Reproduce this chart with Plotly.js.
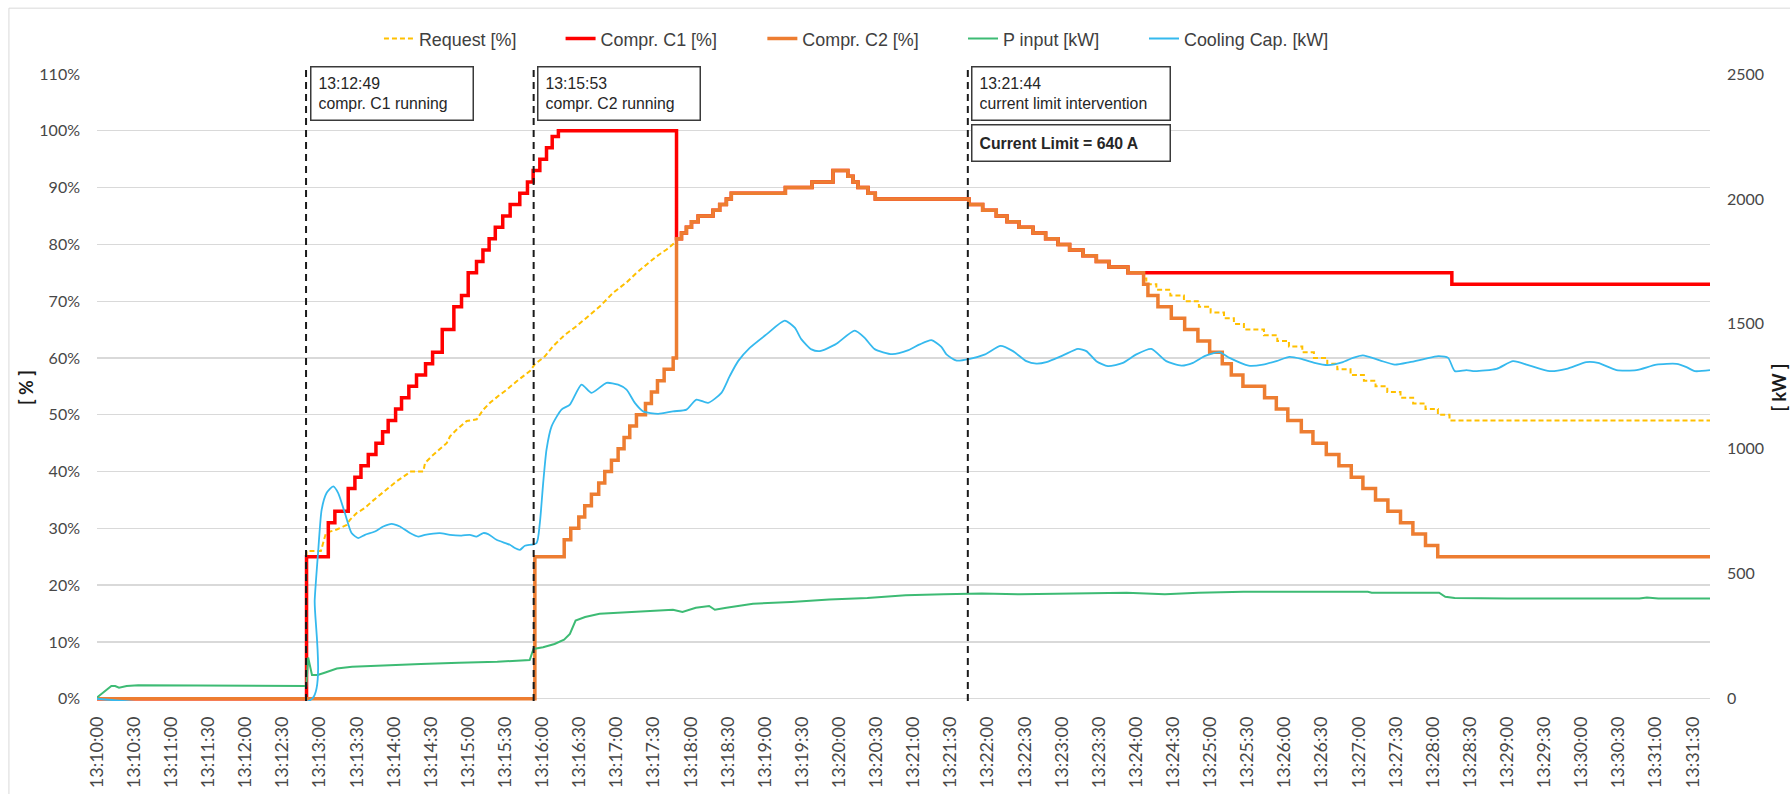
<!DOCTYPE html>
<html><head><meta charset="utf-8">
<script src="https://cdn.plot.ly/plotly-3.0.1.min.js"></script>
<style>html,body{margin:0;padding:0;background:#fff;} #chart{width:1790px;height:794px;}</style>
</head><body><div id="chart"></div>
<script>
// time axis: seconds after 13:10:00
const startTime = '13:10:00';
const endSeconds = 1304;

// Request [%]: ramp part read as a continuous line [seconds, %]
const requestRamp = [[0,0],[169.3,0],[169.4,26],[181,26],[185.1,29.2],[193.8,29.8],[201.9,30.6],[204.5,31.5],[209.9,32.7],[216.7,33.6],[222.1,34.7],[228.8,35.9],[236.9,37.4],[242.3,38.3],[250.4,39.5],[253,40],[263.8,40],[265.2,41.5],[270.6,42.7],[277.3,43.9],[282.7,45],[285.4,46.2],[290.8,47.4],[298.9,48.9],[307,49.2],[312.3,50.9],[317.7,52.1],[324.4,53.3],[331.2,54.4],[339.3,55.9],[344.6,56.8],[350,57.7],[354,58.9],[362.1,60.3],[368.8,62.1],[378.3,64.1],[387.7,65.6],[395.8,67.1],[406.6,69.1],[417.4,71.5],[428.1,73.3],[436.2,75],[444.3,76.5],[452.4,77.9],[460.5,79.1],[467.2,80.3]];
// Request [%]: stepped part, [seconds, new value]
const requestSteps = [[468.5,81],[472.5,82],[476.5,83],[480.6,84],[486,85],[498,86],[503.4,87],[508.8,88],[512.8,89],[556.5,90],[578,91],[595,93],[607,92],[611.2,91],[615.2,90],[623.3,89],[629.2,88],[705,87],[716,86],[727,85],[735.7,84],[745.4,83],[756.7,82],[766.9,81],[776.9,80],[786.3,79],[797.1,78],[807.9,77],[818.1,76],[833.4,75],[845.6,74],[848.3,73],[856.4,72],[867.7,71],[878.7,70],[890.8,69],[900.3,68],[911.1,67],[919.1,66],[927.2,65],[943.4,64],[954.2,63],[963.6,62],[974.4,61],[983.8,60],[994.6,59],[1002.7,58],[1013.4,57],[1024.2,56],[1033.6,55],[1043.1,54],[1053.8,53],[1064,52],[1074,51],[1084,50],[1093.4,49],[1304,49]];

// [seconds, %] change points (stepped)
const comprC1 = [[0,0],[169.4,25],[187,31],[192.3,33],[203.1,37],[208.5,39],[213.4,41],[219.3,43],[225.5,45],[230.9,47],[235.4,49],[241.4,51],[246.2,53],[252.1,55],[258.3,57],[265.6,59],[271.3,61],[279.1,65],[288.5,69],[294.7,71],[300.1,75],[306.8,77],[312,79],[317,81],[322,83],[328,85],[334,87],[341.8,89],[348,91],[352.6,93],[358,95],[363.4,97],[368,99],[373,100],[468.5,81],[472.5,82],[476.5,83],[480.6,84],[486,85],[498,86],[503.4,87],[508.8,88],[512.8,89],[556.5,90],[578,91],[595,93],[607,92],[611.2,91],[615.2,90],[623.3,89],[629.2,88],[705,87],[716,86],[727,85],[735.7,84],[745.4,83],[756.7,82],[766.9,81],[776.9,80],[786.3,79],[797.1,78],[807.9,77],[818.1,76],[833.4,75],[1095.3,73],[1304,73]];

const comprC2 = [[0,0],[354,25],[377.7,28],[383,30],[389.5,32],[394.3,34],[399.7,36],[405.6,38],[410.5,40],[415.9,42],[421.3,44],[426.1,46],[430.7,48],[436.1,50],[443.4,52],[448.2,54],[453.1,56],[458.5,58],[465.8,60],[468.5,81],[472.5,82],[476.5,83],[480.6,84],[486,85],[498,86],[503.4,87],[508.8,88],[512.8,89],[556.5,90],[578,91],[595,93],[607,92],[611.2,91],[615.2,90],[623.3,89],[629.2,88],[705,87],[716,86],[727,85],[735.7,84],[745.4,83],[756.7,82],[766.9,81],[776.9,80],[786.3,79],[797.1,78],[807.9,77],[818.1,76],[833.4,75],[846.1,73],[849.6,71],[857.7,69],[868.5,67],[879.3,65],[890,63],[899.5,61],[909.7,59],[917,57],[926.4,55],[943.9,53],[953.4,51],[962.7,49],[973.6,47],[983,45],[993.8,43],[1004,41],[1014,39],[1023.4,37],[1033.6,35],[1043.6,33],[1053.8,31],[1063.8,29],[1074,27],[1083.9,25],[1304,25]];

// [seconds, kW]
const pInput = [[0,5],[7,31],[11.6,51],[14.7,51],[17.8,44],[24,51],[33.3,54],[169.2,51],[170.7,165],[173.8,95],[178.4,95],[184.6,105],[193.9,121],[206.2,128],[230.9,134],[261.8,139],[292.7,144],[323.6,148],[349.8,155],[352.9,199],[360.6,206],[369.9,219],[377.6,236],[382.3,259],[386.9,313],[394.6,327],[406.3,340],[438,347],[465.6,356],[473.3,347],[484.1,364],[494.9,371],[499.5,356],[508.8,364],[530.3,380],[561.2,387],[592,397],[622.8,403],[653.7,414],[684.5,418],[715.3,421],[746,418],[777,420],[832.4,424],[863.3,418],[890.4,424],[926.9,428],[1027.4,428],[1030.5,424],[1085,424],[1090,408],[1097.6,403],[1140.3,401],[1246.9,401],[1253,405],[1262.2,401],[1304,401]];

const coolingCap = [[0,0],[174,0],[176,395],[178.9,596],[181.6,756],[185.6,823],[191,850],[195,823],[200.4,743],[205.8,663],[211.2,643],[216.6,656],[224.7,669],[231.4,689],[238.2,700],[244.9,689],[253,663],[259.7,649],[265.1,656],[277.2,663],[285.3,656],[294.7,653],[301.4,656],[306.8,649],[312.2,663],[316.2,659],[323,636],[333.8,616],[337.8,603],[341.9,596],[345.9,612],[355.3,623],[358,703],[360.7,863],[363.4,997],[367.5,1090],[375.5,1157],[382.3,1177],[391.7,1257],[399.8,1224],[411.9,1264],[421.3,1257],[428.1,1237],[434.8,1184],[441.5,1150],[453.6,1140],[465.7,1150],[476.6,1157],[484.6,1197],[494,1184],[504.8,1224],[511.5,1291],[518.3,1351],[527.7,1404],[541.2,1458],[556,1513],[564.1,1485],[569.5,1438],[577.6,1398],[584.3,1391],[597,1418],[612.6,1473],[620.6,1444],[628.7,1399],[642.8,1379],[656,1395],[665.1,1418],[674.5,1435],[682.6,1408],[686.7,1378],[695,1353],[705.5,1360],[718,1378],[730.5,1412],[740.5,1391],[751.3,1351],[759.4,1341],[767.5,1347],[780.9,1374],[793,1400],[799.8,1391],[807.9,1351],[817.3,1331],[829.4,1344],[840.2,1378],[852.3,1400],[864.4,1351],[876.6,1333],[886,1344],[895.4,1371],[907.5,1387],[915.6,1364],[931,1333],[942.6,1337],[953.4,1351],[964.1,1368],[973.6,1360],[984.3,1344],[995.1,1335],[1007.2,1347],[1015.3,1364],[1023.4,1374],[1037.1,1354],[1049.2,1337],[1061.3,1347],[1073.4,1360],[1084.2,1371],[1092.3,1364],[1097.7,1311],[1107.1,1315],[1113.9,1311],[1131.4,1320],[1144.8,1351],[1158.3,1333],[1174.5,1311],[1188,1320],[1204.1,1347],[1213.5,1344],[1228.4,1315],[1244.5,1315],[1260.7,1337],[1276.9,1340],[1285,1327],[1291.7,1311],[1304,1315]];

const seriesNames = ['Request [%]','Compr. C1 [%]','Compr. C2 [%]','P input [kW]','Cooling Cap. [kW]'];
const eventTimes = ['13:12:49','13:15:53','13:21:44'];
const eventTexts = ['compr. C1 running','compr. C2 running','current limit intervention'];
const limitText = 'Current Limit = 640 A';
const leftTicks = {min:0, max:110, step:10};
const rightTicks = {min:0, max:2500, step:500};

// ---------------------------------------------------------------
const BASE = Date.UTC(2000,0,1,13,10,0);
const ms = t => BASE + t*1000;
const secOf = s => { const p = s.split(':').map(Number); const b = startTime.split(':').map(Number);
  return (p[0]*3600+p[1]*60+p[2]) - (b[0]*3600+b[1]*60+b[2]); };
const xs = arr => arr.map(p => ms(p[0]));
const ys = arr => arr.map(p => p[1]);

// request: continuous ramp followed by its stepped part (each step drawn as vertical + horizontal)
const requestPts = requestRamp.slice();
requestSteps.forEach(p => {
  const prev = requestPts[requestPts.length-1][1];
  requestPts.push([p[0], prev]);
  requestPts.push([p[0], p[1]]);
});

const LEG_FONT = {family:'Liberation Sans, Arial, sans-serif', size:17.9, color:'#404040'};
const TICK_FONT = {family:'Lato, sans-serif', size:16, color:'#474747'};

const traces = [
  {x:xs(requestPts), y:ys(requestPts), name:seriesNames[0], type:'scatter', mode:'lines', line:{color:'#FFC000', width:2, dash:'5px,3px'}, legend:'legend'},
  {x:xs(comprC1), y:ys(comprC1), name:seriesNames[1], type:'scatter', mode:'lines', line:{shape:'hv', color:'#FF0000', width:3.5}, legend:'legend2'},
  {x:xs(comprC2), y:ys(comprC2), name:seriesNames[2], type:'scatter', mode:'lines', line:{shape:'hv', color:'#ED7D31', width:3.5}, legend:'legend3'},
  {x:xs(pInput), y:ys(pInput), name:seriesNames[3], type:'scatter', mode:'lines', yaxis:'y2', line:{color:'#3DBB74', width:2}, legend:'legend4'},
  {x:xs(coolingCap), y:ys(coolingCap), name:seriesNames[4], type:'scatter', mode:'lines', yaxis:'y2', line:{shape:'spline', smoothing:0.6, color:'#35B9EE', width:1.8}, legend:'legend5'}
];

const legendPos = [0.1748, 0.2874, 0.4125, 0.5369, 0.6491];
const mkLegend = x => ({x:x, y:1.056, xanchor:'left', yanchor:'middle', orientation:'h', font:LEG_FONT, bgcolor:'rgba(0,0,0,0)'});

const shapes = [
  {type:'rect', xref:'paper', yref:'paper', x0:-0.0546, x1:1.06, y0:-0.2, y1:1.105, line:{color:'#D9D9D9', width:1}, layer:'below'}
];
eventTimes.forEach(t => shapes.push({type:'line', xref:'x', yref:'paper', x0:ms(secOf(t)), x1:ms(secOf(t)), y0:0, y1:1.0064, line:{color:'#1a1a1a', width:2, dash:'7px,5px'}, layer:'above'}));

const ANN_FONT = {family:'Liberation Sans, Arial, sans-serif', size:15.8, color:'#262626'};
const annotations = eventTimes.map((t,i) => ({
  xref:'x', yref:'paper', x:ms(secOf(t)), y:1.0128, xanchor:'left', yanchor:'top', xshift:3.5,
  text: t + '<br>' + eventTexts[i], showarrow:false, align:'left', valign:'middle',
  width: i===2 ? 183 : 147, height:38, borderpad:7, borderwidth:1.5, bordercolor:'#3a3a3a', bgcolor:'#ffffff', font:ANN_FONT
}));
annotations.push({
  xref:'x', yref:'paper', x:ms(secOf(eventTimes[2])), y:1 + (74-124)/627, xanchor:'left', yanchor:'top', xshift:3.5,
  text:'<b>'+limitText+'</b>', showarrow:false, align:'left', valign:'middle',
  width:183, height:21, borderpad:7, borderwidth:1.5, bordercolor:'#3a3a3a', bgcolor:'#ffffff', font:ANN_FONT
});

const layout = {
  width:1790, height:794,
  margin:{l:97, r:80, t:74, b:93, pad:0},
  paper_bgcolor:'#ffffff', plot_bgcolor:'#ffffff',
  showlegend:true,
  legend:mkLegend(legendPos[0]), legend2:mkLegend(legendPos[1]), legend3:mkLegend(legendPos[2]),
  legend4:mkLegend(legendPos[3]), legend5:mkLegend(legendPos[4]),
  xaxis:{type:'date', range:[ms(0), ms(endSeconds)], tick0:ms(0), dtick:30000, tickformat:'%H:%M:%S',
    tickangle:-90, showgrid:false, zeroline:false, showline:false, ticks:'', ticklabelstandoff:11,
    tickfont:{family:'Lato, sans-serif', size:18, color:'#474747'}, fixedrange:true},
  yaxis:{range:[-0.4, leftTicks.max], tick0:0, dtick:leftTicks.step, ticksuffix:'%', gridcolor:'#D9D9D9', gridwidth:1.3,
    zeroline:true, zerolinecolor:'#D9D9D9', zerolinewidth:1.3, showline:false, ticks:'', ticklabelstandoff:16,
    tickfont:TICK_FONT, title:{text:'<b>[ % ]</b>', font:{family:'Lato, sans-serif', size:18, color:'#1a1a1a'}, standoff:1}},
  yaxis2:{overlaying:'y', side:'right', range:[-0.4*2500/110, rightTicks.max], tick0:0, dtick:rightTicks.step, showgrid:false,
    zeroline:false, showline:false, ticks:'', ticklabelstandoff:16, tickfont:TICK_FONT,
    title:{text:'<b>[ kW ]</b>', font:{family:'Lato, sans-serif', size:18, color:'#1a1a1a'}, standoff:16}},
  shapes:shapes, annotations:annotations
};

Plotly.newPlot('chart', traces, layout, {displayModeBar:false, staticPlot:true});
</script></body></html>
